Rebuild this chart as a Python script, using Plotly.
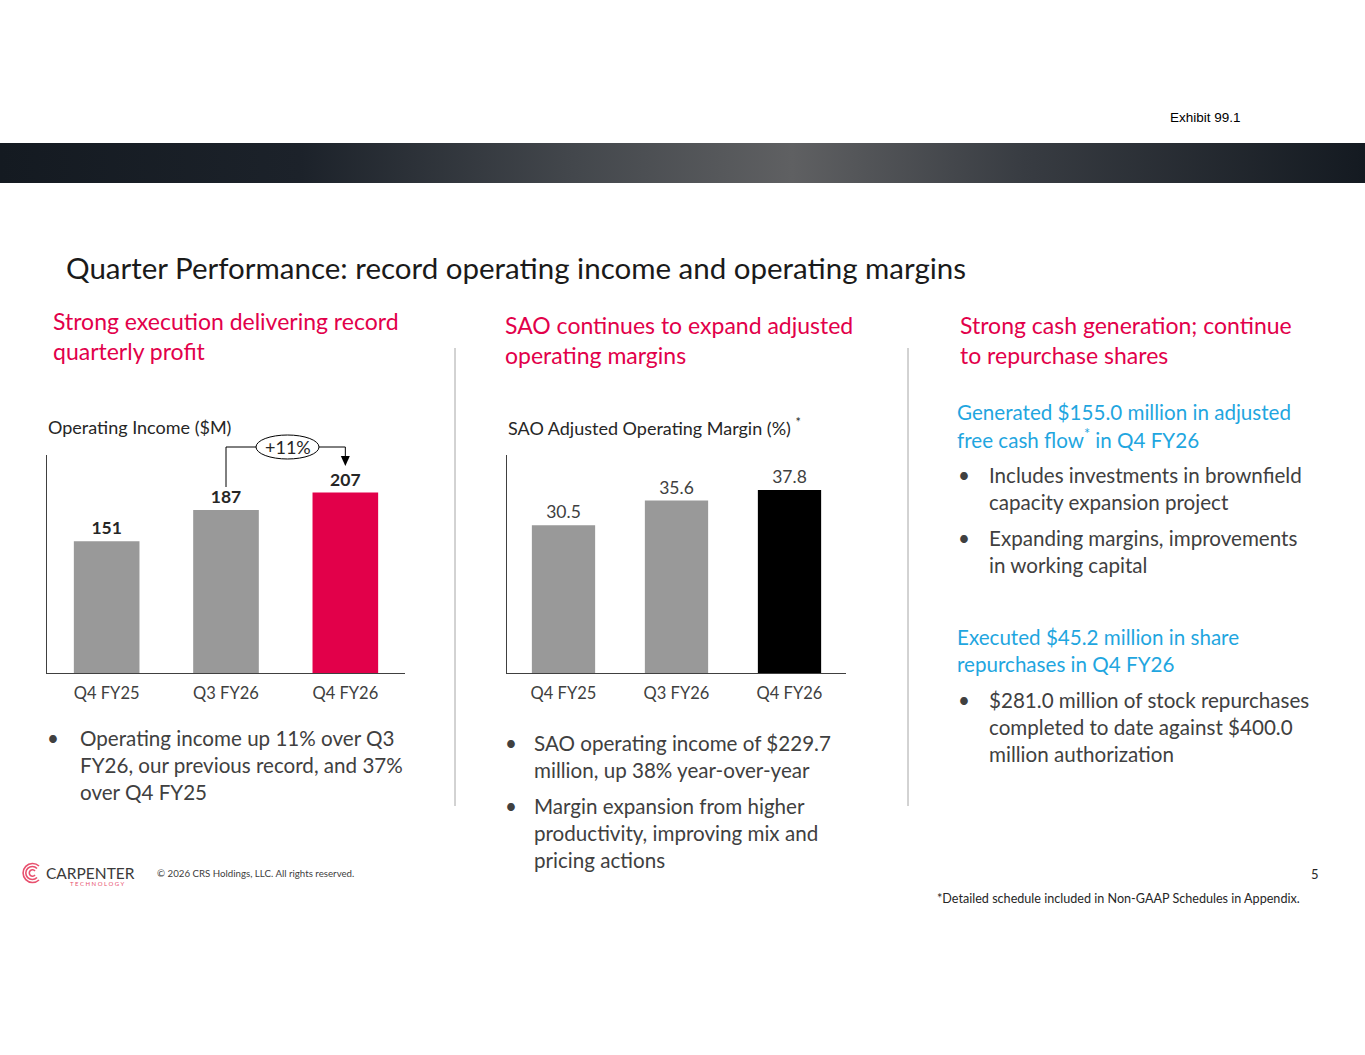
import base64
import plotly.graph_objects as go

W, H = 1365, 1055

# data
quarters = ["Q4 FY25", "Q3 FY26", "Q4 FY26"]
op_income = [151, 187, 207]
sao_margin = [30.5, 35.6, 37.8]
growth_label = "+11%"

FONT = "Lato"
RED = "#e2004a"
BLUE = "#1fa6df"
GREY_TXT = "#404040"
BODY = 20.6


def px(x):
    return x / W


def py(y):
    return 1 - y / H


fig = go.Figure()

fig.add_trace(go.Bar(
    x=quarters, y=op_income, xaxis="x", yaxis="y",
    marker=dict(color=["#999999", "#999999", "#e2004a"], line_width=0),
    width=0.55,
    texttemplate="<b>%{y}</b>", textposition="outside",
    textfont=dict(family=FONT, size=17.5, color="#262626"),
    cliponaxis=False, hoverinfo="skip",
))
fig.add_trace(go.Bar(
    x=quarters, y=sao_margin, xaxis="x2", yaxis="y2",
    marker=dict(color=["#999999", "#999999", "#000000"], line_width=0),
    width=0.56,
    texttemplate="%{y:.1f}", textposition="outside",
    textfont=dict(family=FONT, size=17.5, color=GREY_TXT),
    cliponaxis=False, hoverinfo="skip",
))

ax_common = dict(showline=True, linecolor="#404040", linewidth=1, showgrid=False,
                 zeroline=False, fixedrange=True)
x_common = dict(ax_common, ticks="outside", ticklen=5, tickcolor="rgba(0,0,0,0)",
                tickfont=dict(family=FONT, size=16.5, color=GREY_TXT))
y_common = dict(ax_common, showticklabels=False, ticks="")

fig.update_layout(
    width=W, height=H,
    margin=dict(l=0, r=0, t=0, b=0),
    paper_bgcolor="white", plot_bgcolor="white",
    showlegend=False,
    xaxis=dict(x_common, domain=[px(47), px(405)], anchor="y"),
    yaxis=dict(y_common, domain=[py(673), py(455)], range=[0, 250], anchor="x"),
    xaxis2=dict(x_common, domain=[px(507), px(846)], anchor="y2"),
    yaxis2=dict(y_common, domain=[py(673), py(455)], range=[0, 45], anchor="x2"),
)

# header band with gradient (svg image)
svg = ("<svg xmlns='http://www.w3.org/2000/svg' width='1365' height='40' preserveAspectRatio='none'>"
       "<defs><linearGradient id='g' x1='0' x2='1' y1='0' y2='0'>"
       "<stop offset='0' stop-color='#141a21'/><stop offset='0.22' stop-color='#1c222a'/>"
       "<stop offset='0.42' stop-color='#43474c'/><stop offset='0.58' stop-color='#5f6062'/>"
       "<stop offset='0.75' stop-color='#383c42'/><stop offset='1' stop-color='#141a21'/>"
       "</linearGradient></defs><rect width='1365' height='40' fill='url(#g)'/></svg>")
band_src = "data:image/svg+xml;base64," + base64.b64encode(svg.encode()).decode()

logo_svg = ("<svg xmlns='http://www.w3.org/2000/svg' width='24' height='24' viewBox='0 0 24 24'>"
            "<g fill='none' stroke='#e8506e' stroke-width='1.6'>"
            "<path d='M19 5 A9.5 9.5 0 1 0 19 19'/><path d='M17 7.5 A6.5 6.5 0 1 0 17 16.5'/>"
            "<path d='M15 10 A3.2 3.2 0 1 0 15 14'/></g></svg>")
logo_src = "data:image/svg+xml;base64," + base64.b64encode(logo_svg.encode()).decode()

fig.update_layout(images=[
    dict(source=band_src, xref="paper", yref="paper", x=0, y=py(143), sizex=1, sizey=40 / H,
         sizing="stretch", xanchor="left", yanchor="top", layer="below"),
    dict(source=logo_src, xref="paper", yref="paper", x=px(20), y=py(861), sizex=24 / W, sizey=24 / H,
         sizing="stretch", xanchor="left", yanchor="top", layer="above"),
])


def text(x, y, s, size, color, family=FONT, anchor="left"):
    fig.add_annotation(x=px(x), y=py(y), xref="paper", yref="paper", text=s, showarrow=False,
                       xanchor=anchor, yanchor="middle", borderpad=0, borderwidth=0,
                       font=dict(family=family, size=size, color=color))


def lines(x, y0, dy, rows, size, color, bullet_x=None):
    if bullet_x is not None:
        text(bullet_x, y0, "•", size, color)
    for i, r in enumerate(rows):
        text(x, y0 + i * dy, r, size, color)


text(1170, 117, "Exhibit 99.1", 13.5, "#000000", family="Arial")
text(66, 267, "Quarter Performance: record operating income and operating margins", 29.5, "#1a1a1a")

lines(53, 321, 30, ["Strong execution delivering record", "quarterly profit"], 23, RED)
lines(505, 325, 30, ["SAO continues to expand adjusted", "operating margins"], 23, RED)
lines(960, 325, 30, ["Strong cash generation; continue", "to repurchase shares"], 23, RED)

text(48, 427, "Operating Income ($M)", 18, "#262626")
text(508, 427, "SAO Adjusted Operating Margin (%) <sup>*</sup>", 18, "#262626")

lines(80, 738, 27, ["Operating income up 11% over Q3", "FY26, our previous record, and 37%",
                    "over Q4 FY25"], BODY, GREY_TXT, bullet_x=47)
lines(534, 743, 27, ["SAO operating income of $229.7", "million, up 38% year-over-year"],
      BODY, GREY_TXT, bullet_x=505)
lines(534, 806, 27, ["Margin expansion from higher", "productivity, improving mix and",
                     "pricing actions"], BODY, GREY_TXT, bullet_x=505)

lines(957, 412, 27, ["Generated $155.0 million in adjusted",
                     "free cash flow<sup>*</sup> in Q4 FY26"], BODY, BLUE)
lines(989, 475, 27, ["Includes investments in brownfield", "capacity expansion project"],
      BODY, GREY_TXT, bullet_x=958)
lines(989, 538, 27, ["Expanding margins, improvements", "in working capital"],
      BODY, GREY_TXT, bullet_x=958)
lines(957, 637, 27, ["Executed $45.2 million in share", "repurchases in Q4 FY26"], BODY, BLUE)
lines(989, 700, 27, ["$281.0 million of stock repurchases", "completed to date against $400.0",
                     "million authorization"], BODY, GREY_TXT, bullet_x=958)

text(46, 873, "CARPENTER", 15.5, "#3a3a3a")
text(70, 883, "T E C H N O L O G Y", 6, "#e8506e")
text(157, 873, "© 2026 CRS Holdings, LLC. All rights reserved.", 9.7, "#404040")
text(1319, 874, "5", 13, "#262626", anchor="right")
text(1300, 898, "*Detailed schedule included in Non-GAAP Schedules in Appendix.", 12.6, "#262626",
     anchor="right")

# +11% callout: connector from Q3 FY26 bar to Q4 FY26 bar
slot = (405 - 47) / len(quarters)
x_from = 47 + slot * (quarters.index("Q3 FY26") + 0.5)
x_to = 47 + slot * (quarters.index("Q4 FY26") + 0.5)
cy = 447
ex0, ex1 = 256, 319
line_style = dict(color="#000000", width=1)
fig.add_shape(type="path", xref="paper", yref="paper", line=line_style,
              path=f"M {px(x_from)} {py(487)} L {px(x_from)} {py(cy)} L {px(ex0)} {py(cy)}")
fig.add_shape(type="path", xref="paper", yref="paper", line=line_style,
              path=f"M {px(ex1)} {py(cy)} L {px(x_to)} {py(cy)} L {px(x_to)} {py(458)}")
fig.add_shape(type="path", xref="paper", yref="paper", line=dict(width=0), fillcolor="#000000",
              path=f"M {px(x_to - 4.5)} {py(456)} L {px(x_to + 4.5)} {py(456)} L {px(x_to)} {py(466)} Z")
fig.add_shape(type="circle", xref="paper", yref="paper", line=line_style, fillcolor="white",
              x0=px(ex0), x1=px(ex1), y0=py(459), y1=py(435))
text((ex0 + ex1) / 2, cy, growth_label, 18, "#262626", anchor="center")

# column dividers
for xd in (455, 908):
    fig.add_shape(type="line", xref="paper", yref="paper", x0=px(xd), x1=px(xd),
                  y0=py(348), y1=py(806), line=dict(color="#a6a6a6", width=1))

fig.write_html("out.html", config={"displayModeBar": False},
               post_script="document.body.style.margin='0';")
